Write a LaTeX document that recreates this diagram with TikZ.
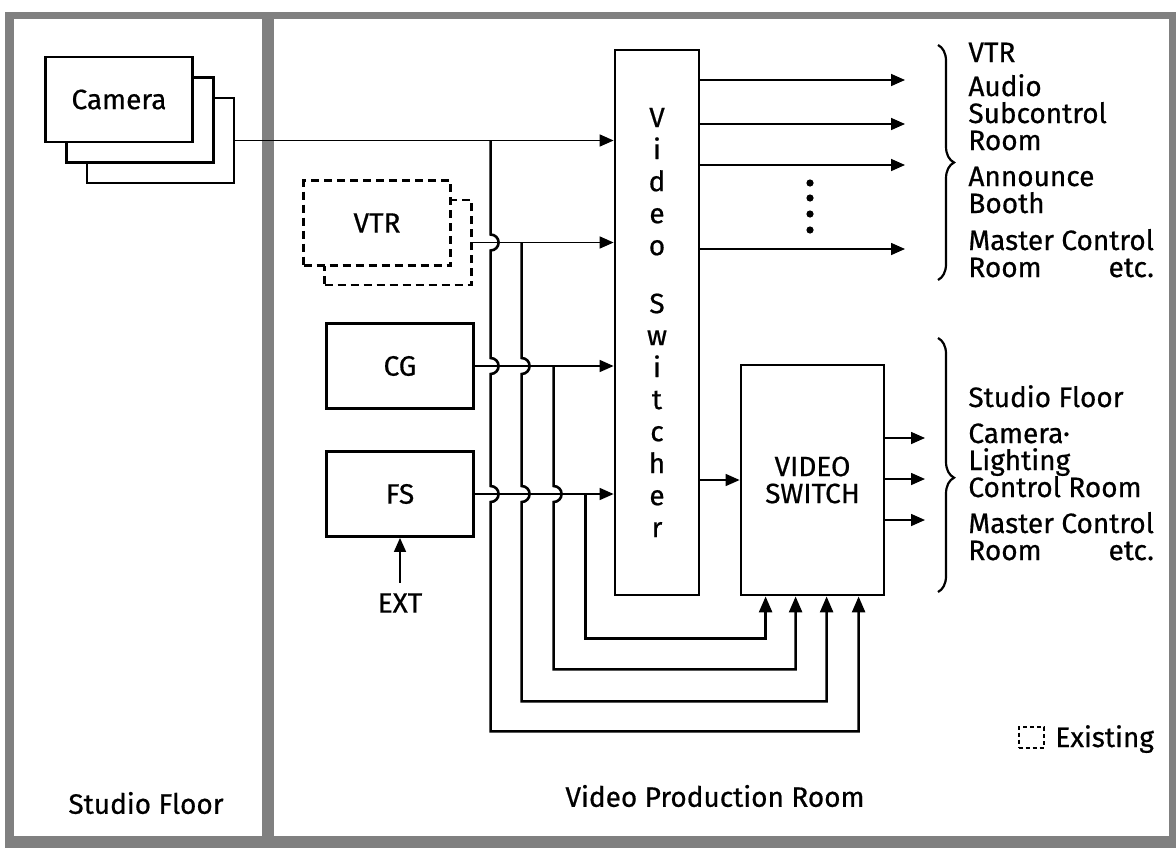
\documentclass[tikz,border=0pt]{standalone}
\usepackage{fontspec}
\setmainfont{Fira Sans}[FakeBold=0.6]
\usetikzlibrary{arrows.meta,decorations.pathreplacing}
\newlength{\mastercontrolwidth}
\begin{document}
\settowidth{\mastercontrolwidth}{\fontsize{14}{13.5}\selectfont Master Control}
\begin{tikzpicture}[x=0.5pt,y=-0.5pt]
      \useasboundingbox (0,0) rectangle (1176,851);

      \tikzstyle{wall} = [fill=black!50, draw=none]
      \tikzstyle{unit} = [
        rectangle,
        draw=black,
        line width=1.4pt,
        fill=white,
        minimum width=73.5pt,
        minimum height=42.5pt,
        inner sep=0pt,
        font=\fontsize{14}{13.5}\selectfont
      ]
      \tikzstyle{existing} = [unit, dash pattern=on 4pt off 2.5pt]
      \tikzstyle{roomtext} = [
        draw=none,
        anchor=base west,
        align=left,
        inner sep=0pt,
        font=\fontsize{14}{13.5}\selectfont
      ]
      \tikzstyle{arrow} = [line width=0.8pt, -{Triangle[length=7pt,width=6pt]}]
      \tikzstyle{bus} = [line width=1.3pt, -{Triangle[length=8pt,width=6.5pt]}]
      \tikzstyle{bracket} = [line width=1.1pt, decorate, decoration={brace,amplitude=8pt}]

      % walls
      \fill[wall] (5,12) rectangle (1176,19);
      \fill[wall] (5,836) rectangle (1176,848);
      \fill[wall] (5,12) rectangle (14,848);
      \fill[wall] (262,12) rectangle (274,848);
      \fill[wall] (1169,12) rectangle (1176,848);

      % cameras
      \node[unit] (cam3) at (160.5,140.5) {};
      \node[unit] (cam2) at (140,120) {};
      \node[unit] (cam1) at (119,99.5) {Camera};

      % sources
      \node[existing] (vtr2) at (398,242.5) {};
      \node[existing] (vtr1) at (377,223) {VTR};
      \node[unit] (cg) at (400,366) {CG};
      \node[unit] (fs) at (400,494) {FS};
      \node[roomtext, anchor=center, inner sep=2pt] (ext) at (400,603) {EXT};

      % switchers
      \node[unit, minimum width=42pt, minimum height=272.5pt, align=center,
            font=\fontsize{14}{16}\selectfont] (switcher) at (657,322.5)
            {V\\i\\d\\e\\o\\[13pt]S\\w\\i\\t\\c\\h\\e\\r};
      \node[unit, minimum width=71.5pt, minimum height=115pt, align=center] (vswitch) at (812.5,480) {VIDEO\\SWITCH};

      % inputs
      \coordinate (inCam) at (cam3.east -| switcher.west);
      \coordinate (inVTR) at (vtr2.east -| switcher.west);
      \coordinate (inCG) at (cg.east -| switcher.west);
      \coordinate (inFS) at (fs.east -| switcher.west);
      \draw[arrow] (cam3.east) -- (inCam);
      \draw[arrow] (vtr2.east) -- (inVTR);
      \draw[arrow] (cg.east) -- (inCG);
      \draw[arrow] (fs.east) -- (inFS);
      \draw[arrow] ([yshift=3pt] ext.north) -- (fs.south);

      % taps
      \coordinate (tapCam) at ([xshift=-61.5pt] inCam);
      \coordinate (tapVTR) at ([xshift=-46pt] inVTR);
      \coordinate (tapCG) at ([xshift=-30pt] inCG);
      \coordinate (tapFS) at ([xshift=-14pt] inFS);
      \coordinate (vsIn1) at ([xshift=13pt] vswitch.south west);
      \coordinate (vsIn2) at ([xshift=28pt] vswitch.south west);
      \coordinate (vsIn3) at ([xshift=43.5pt] vswitch.south west);
      \coordinate (vsIn4) at ([xshift=59.5pt] vswitch.south west);

      % buses
      \draw[bus] (tapFS) |- ([yshift=-21pt] vsIn1) -- (vsIn1);
      \draw[bus] (tapCG) -- ([yshift=4pt] tapCG |- inFS) arc[start angle=90, end angle=-90, radius=4pt]
        |- ([yshift=-36.5pt] vsIn2) -- (vsIn2);
      \draw[bus] (tapVTR) -- ([yshift=4pt] tapVTR |- inCG) arc[start angle=90, end angle=-90, radius=4pt]
        -- ([yshift=4pt] tapVTR |- inFS) arc[start angle=90, end angle=-90, radius=4pt]
        |- ([yshift=-52.5pt] vsIn3) -- (vsIn3);
      \draw[bus] (tapCam) -- ([yshift=4pt] tapCam |- inVTR) arc[start angle=90, end angle=-90, radius=4pt]
        -- ([yshift=4pt] tapCam |- inCG) arc[start angle=90, end angle=-90, radius=4pt]
        -- ([yshift=4pt] tapCam |- inFS) arc[start angle=90, end angle=-90, radius=4pt]
        |- ([yshift=-67.5pt] vsIn4) -- (vsIn4);

      % outputs
      \coordinate (swOut1) at (905,80);
      \coordinate (swOut2) at (905,124);
      \coordinate (swOut3) at (905,165);
      \coordinate (swOut4) at (905,249);
      \draw[arrow] (swOut1 -| switcher.east) -- (swOut1);
      \draw[arrow] (swOut2 -| switcher.east) -- (swOut2);
      \draw[arrow] (swOut3 -| switcher.east) -- (swOut3);
      \draw[arrow] (swOut4 -| switcher.east) -- (swOut4);
      \fill (810,183) circle[radius=1.8pt];
      \fill (810,198) circle[radius=1.8pt];
      \fill (810,214) circle[radius=1.8pt];
      \fill (810,230) circle[radius=1.8pt];
      \draw[arrow] (vswitch.west -| switcher.east) -- (vswitch.west);
      \coordinate (vsOut1) at (925,438);
      \coordinate (vsOut2) at (925,479);
      \coordinate (vsOut3) at (925,520);
      \draw[arrow] (vsOut1 -| vswitch.east) -- (vsOut1);
      \draw[arrow] (vsOut2 -| vswitch.east) -- (vsOut2);
      \draw[arrow] (vsOut3 -| vswitch.east) -- (vsOut3);

      % destinations (base = last line)
      \draw[bracket] (938,45) -- (938,280);
      \draw[bracket, decoration={aspect=0.55}] (938,338) -- (938,592);
      \node[roomtext] (toVTR) at (968,62) {VTR};
      \node[roomtext] (toAudio) at (968,150) {Audio\\Subcontrol\\Room};
      \node[roomtext] (toAnnounce) at (968,213) {Announce\\Booth};
      \node[roomtext] (toMaster) at (968,277) {Master Control\\\makebox[\mastercontrolwidth][s]{Room\hfill etc.}};
      \node[roomtext] (toStudio) at (968,407) {Studio Floor};
      \node[roomtext] (toCamLight) at (968,497) {Camera·\\Lighting\\Control Room};
      \node[roomtext] (toMaster2) at (968,560) {Master Control\\\makebox[\mastercontrolwidth][s]{Room\hfill etc.}};

      % rooms
      \node[roomtext, anchor=center] (studioFloor) at (146,803) {Studio Floor};
      \node[roomtext, anchor=center] (productionRoom) at (715,796) {Video Production Room};
      \node[existing, minimum width=12.5pt, minimum height=10.5pt, line width=1pt,
            dash pattern=on 2pt off 1.5pt] (legendBox) at (1031,737) {};
      \node[roomtext] (legendText) at (1055,747) {Existing};
\end{tikzpicture}
\end{document}
